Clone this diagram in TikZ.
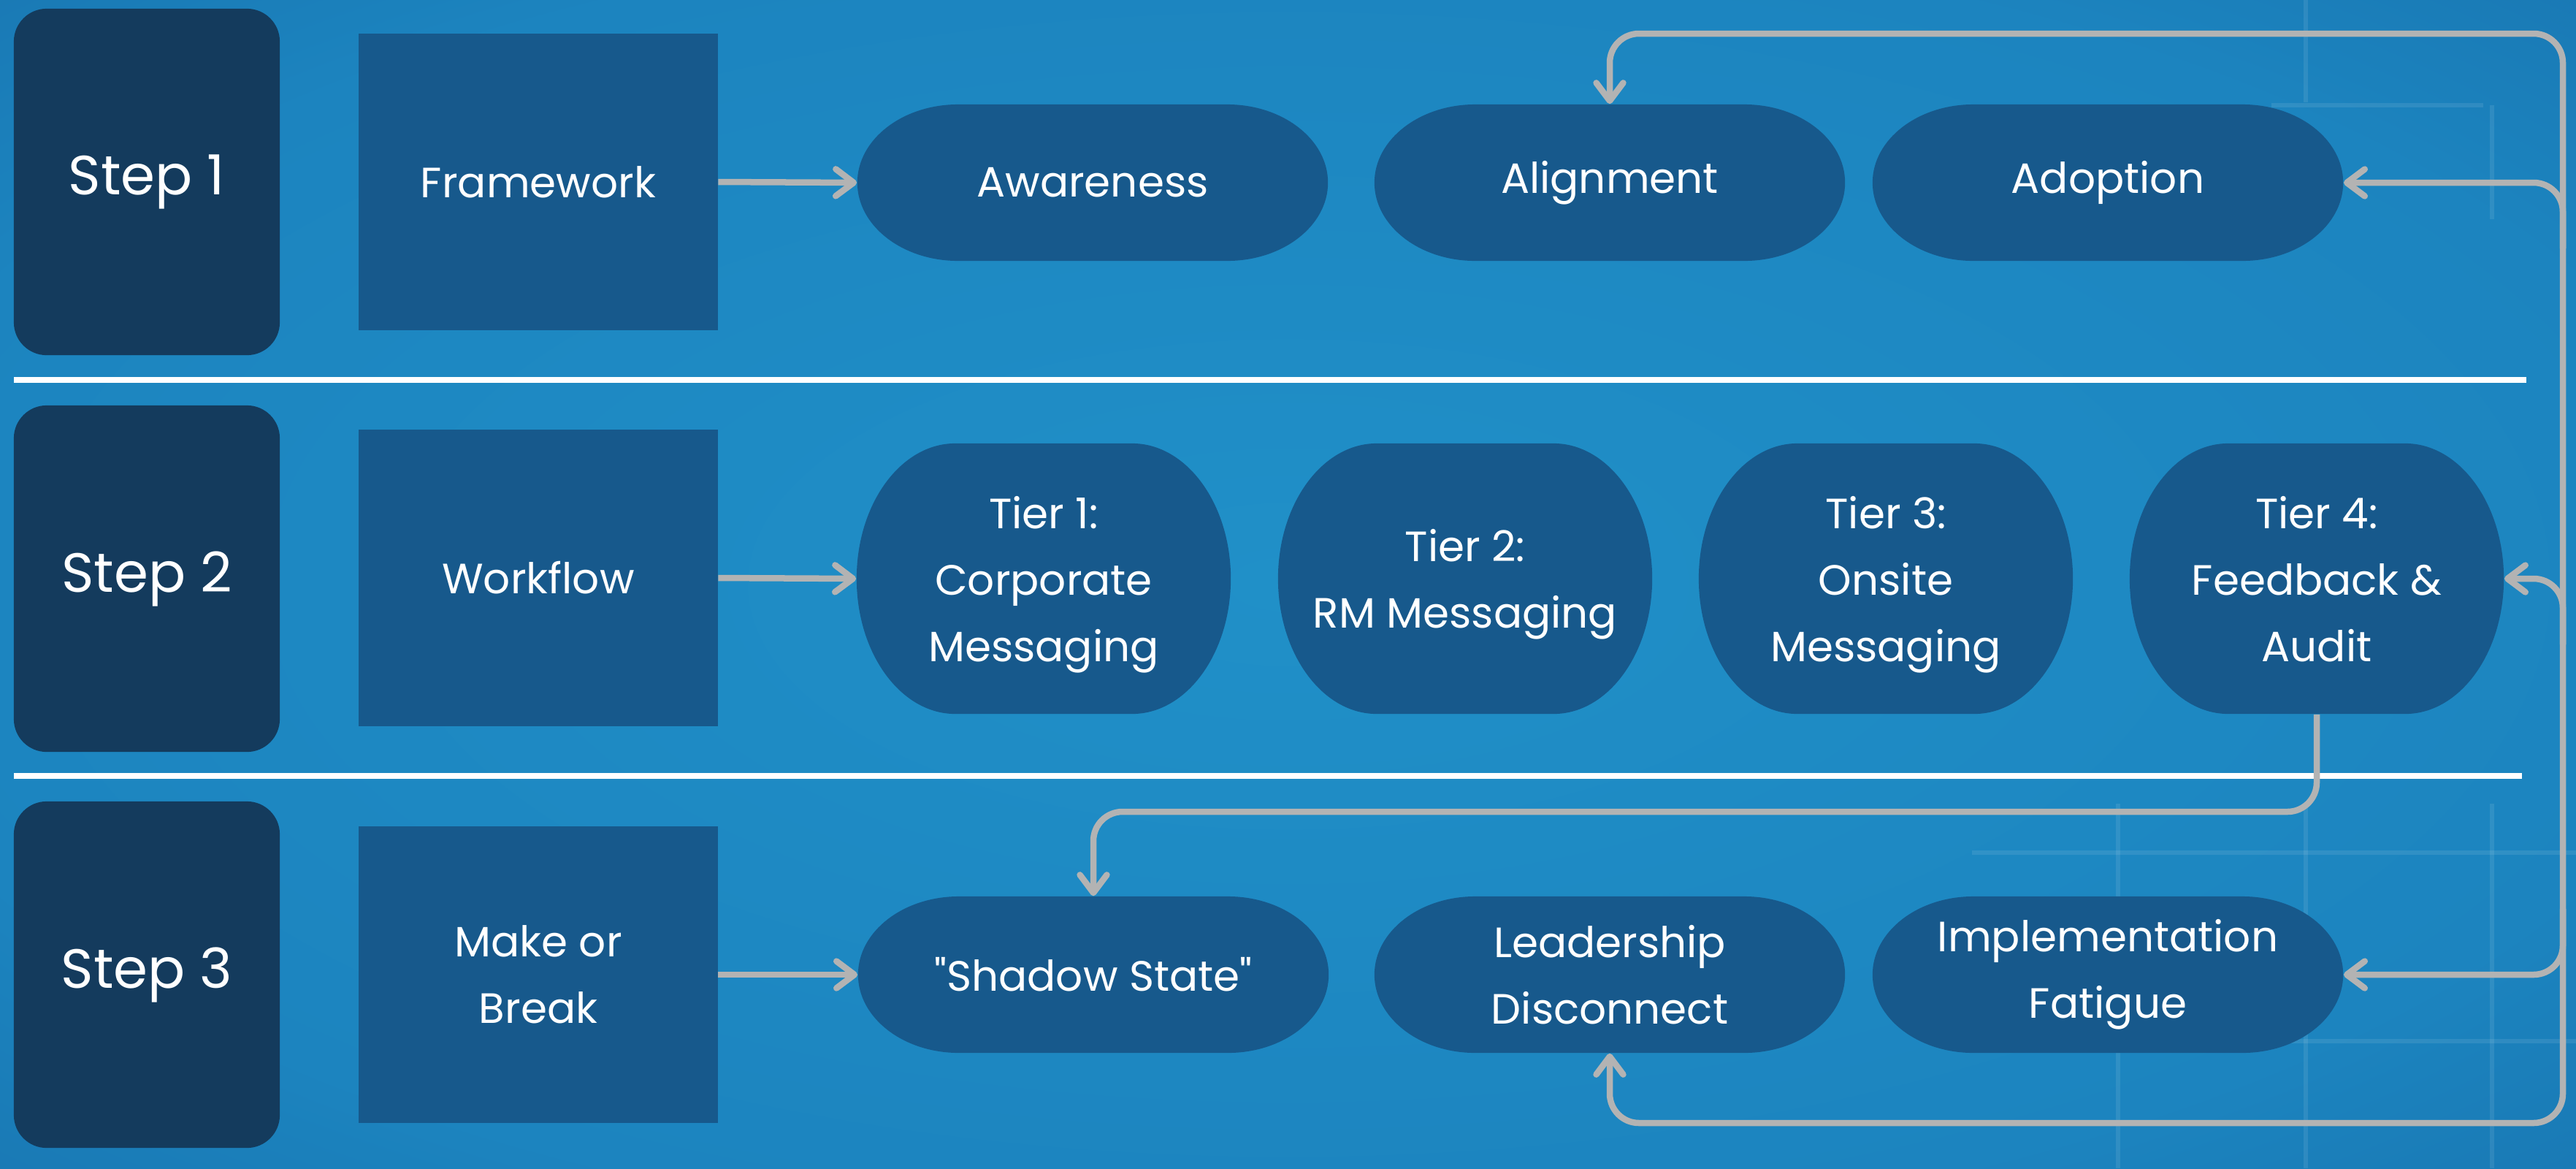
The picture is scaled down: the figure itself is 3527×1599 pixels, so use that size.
\documentclass[tikz,border=0pt]{standalone}
\usepackage{fontspec}
\setmainfont{Poppins}
\newfontfamily\rawfont{Poppins}
\usetikzlibrary{arrows.meta,calc}
\definecolor{bgA}{HTML}{2090C8}
\definecolor{bgB}{HTML}{1C84BF}
\definecolor{bgC}{HTML}{166BA7}
\definecolor{bgD}{HTML}{0F4D84}
\definecolor{boxblue}{HTML}{17598C}
\definecolor{stepblue}{HTML}{143B5D}
\definecolor{conngray}{HTML}{B3B3B3}
\pgfdeclareradialshading{vign}{\pgfpoint{0bp}{0bp}}{color(0bp)=(bgA); color(28bp)=(bgB); color(46bp)=(bgC); color(70bp)=(bgD)}
\tikzset{
  txt/.style={text=white, align=center, inner sep=0pt, font=\fontsize{16.5}{25.9}\selectfont},
  stepbox/.style={txt, fill=stepblue, rounded corners=0.45cm, minimum width=3.64cm, minimum height=4.74cm, font=\fontsize{21.5}{24}\selectfont},
  rectbox/.style={txt, fill=boxblue, minimum width=4.91cm, minimum height=4.06cm},
  pill/.style n args={3}{txt, minimum width=#1, minimum height=#2,
    path picture={\fill[boxblue] ([xshift=#3]path picture bounding box.north west) -- ([xshift=-#3]path picture bounding box.north east) arc[start angle=90, end angle=-90, x radius=#3, y radius=#2/2] -- ([xshift=#3]path picture bounding box.south west) arc[start angle=270, end angle=90, x radius=#3, y radius=#2/2] -- cycle;}},
  widepill/.style={pill={6.44cm}{2.14cm}{1.38cm}},
  tierpill/.style={pill={5.12cm}{3.70cm}{1.35cm}, text depth=0pt},
  barb/.tip={Straight Barb[length=7pt, width=10.5pt, line cap=round, line join=round]},
  conn/.style={draw=conngray, line width=0.085cm, rounded corners=0.4cm, -barb},
  bothconn/.style={conn, barb-barb},
  sep/.style={draw=white, line width=0.08cm},
  grid/.style={draw=white, opacity=0.09, line width=0.06cm}
}
\begin{document}
\begin{tikzpicture}[x=0.01cm, y=-0.01cm]
% background
\shade[shading=vign] (0,0) rectangle (3527,1599);
\useasboundingbox (0,0) rectangle (3527,1599);
% faint blueprint grid
\draw[grid] (2900,1100) -- (2900,1599);
\draw[grid] (3157,1100) -- (3157,1599);
\draw[grid] (3412,1100) -- (3412,1599);
\draw[grid] (2700,1167) -- (3527,1167);
\draw[grid] (2700,1425) -- (3527,1425);
\draw[grid] (3157,0) -- (3157,140);
\draw[grid] (3110,144) -- (3400,144);
\draw[grid] (3412,144) -- (3412,300);
% separators
\draw[sep] (19,520) -- (3459,520);
\draw[sep] (19,1062) -- (3453,1062);
% step boxes
\node[stepbox] (s1) at (201,249) {Step 1};
\node[stepbox] (s2) at (201,792) {Step 2};
\node[stepbox] (s3) at (201,1334) {Step 3};
% first column boxes
\node[rectbox] (fw) at (737,249) {Framework};
\node[rectbox] (wf) at (737,791) {Workflow};
\node[rectbox] (mb) at (737,1334) {Make or\\Break};
% row 1
\node[widepill] (aw) at (1496,250) {Awareness};
\node[widepill] (al) at (2204,250) {Alignment};
\node[widepill] (ad) at (2886,250) {Adoption};
% row 2
\node[tierpill] (t1) at (1429,792) {Tier 1:\\Corporate\\Messaging};
\node[tierpill] (t2) at (2006,792) {Tier 2:\\RM Messaging};
\node[tierpill] (t3) at (2582,792) {Tier 3:\\Onsite\\Messaging};
\node[tierpill] (t4) at (3172,792) {Tier 4:\\Feedback \&\\Audit};
% row 3
\node[widepill] (sh) at (1497,1334) {\rawfont "Shadow State"};
\node[widepill] (ld) at (2204,1334) {Leadership\\Disconnect};
\node[widepill] (im) at (2886,1334) {Implementation\\Fatigue};
% connectors
\coordinate (bustop) at (3509,46);
\coordinate (busbot) at (3509,1537);
\coordinate (rowjoin) at (0,1111);
\draw[conn] (fw.east) -- (aw.west);
\draw[conn] (wf.east) -- (t1.west);
\draw[conn] (mb.east) -- (sh.west);
\draw[conn] (t4.south) |- (sh.north |- rowjoin) -- (sh.north);
\draw[bothconn] (al.north) |- (bustop) |- (ld.south |- busbot) -- (ld.south);
\draw[conn] ([yshift=-0.9cm]bustop |- ad.east) |- (ad.east);
\draw[conn] ([yshift=-0.9cm]bustop |- t4.east) |- (t4.east);
\draw[conn] ([yshift=0.9cm]bustop |- im.east) |- (im.east);
\end{tikzpicture}
\end{document}
